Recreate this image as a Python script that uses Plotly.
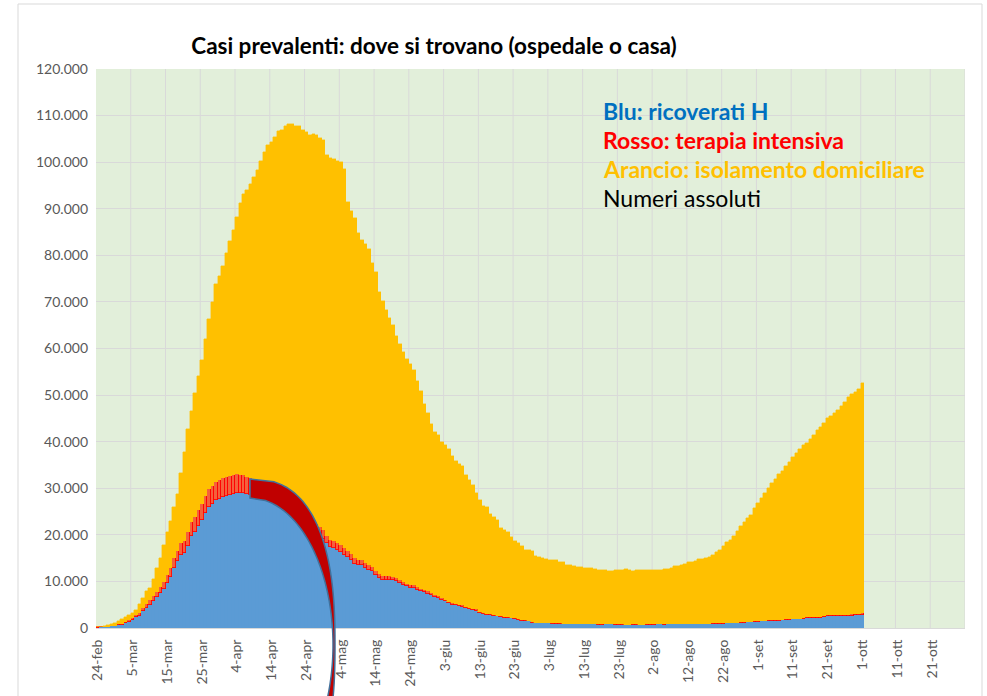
import math
import pandas as pd
import plotly.graph_objects as go

# ---------------- data (Italia, casi attualmente positivi) ----------------
start_date = "2020-02-24"

ricoverati_h = [
    101, 114, 128, 248, 345, 401,
    639, 742, 1034, 1346, 1790, 2394, 2651, 3557, 4316, 5038, 5838, 6650, 7426, 8372, 9663,
    11025, 12894, 14363, 15757, 16020, 17708, 19846, 20692, 21937, 23112, 24753, 26029, 26676,
    27386, 27795, 28192,
    28403, 28540, 28741, 29010, 28949, 28976, 28718, 28485, 28399, 28242, 28144, 27847, 28023,
    28011, 27643, 26893, 26033, 25786, 25033, 24906, 24134, 23805, 22871, 22068, 21533, 21372,
    20353, 19723, 19210, 18149,
    17357, 17242, 16823, 16270, 15769, 15174, 14636, 13834, 13618, 13539, 12865, 12557, 12276,
    11453, 10792, 10400, 10400, 10311, 10207, 9991, 9624, 9269, 8957, 8695, 8613, 8185, 7917,
    7729, 7379, 7094, 6680,
    6387, 6099, 5742, 5301, 5002, 4864, 4729, 4581, 4320, 4131, 3893, 3747, 3301, 3022, 2867,
    2749, 2633, 2474, 2314, 2222, 2157, 2090, 1974, 1789, 1609, 1541, 1425, 1177, 1090, 1039,
    1015, 1003, 978, 956, 954, 949, 880, 861, 846, 834, 823, 820, 812, 798, 780, 758, 744, 749,
    759, 766, 772, 733, 732, 713, 705, 702, 713, 724, 705, 707, 713,
    718, 732, 770, 760, 752, 765, 778, 787, 808, 817, 828, 843, 846, 842, 843, 855, 879, 896,
    910, 924, 958, 964, 999, 1045, 1058, 1096, 1117, 1156, 1202, 1255, 1338,
    1380, 1402, 1472, 1505, 1524, 1560, 1611, 1614, 1686, 1760, 1836, 1836, 1857, 1951, 2122,
    2122, 2222, 2209, 2247, 2380, 2487, 2474, 2476, 2531, 2532, 2588, 2604, 2670, 2746, 2791,
    2846,
]

terapia_intensiva = [
    26, 35, 36, 56, 64, 105,
    140, 166, 229, 295, 351, 462, 567, 650, 733, 877, 1028, 1153, 1328, 1518, 1672, 1851, 2060,
    2257, 2498, 2655, 2857, 3009, 3204, 3396, 3489, 3612, 3732, 3856, 3906, 3981, 4023,
    4035, 4053, 4068, 3994, 3977, 3898, 3792, 3693, 3605, 3497, 3381, 3343, 3260, 3186, 3079,
    2936, 2812, 2733, 2635, 2573, 2471, 2384, 2267, 2173, 2102, 2009, 1956, 1863, 1795, 1694,
    1578, 1539, 1501, 1479, 1427, 1333, 1311, 1168, 1034, 1027, 999, 952, 893, 855, 808, 775,
    762, 749, 716, 676, 640, 595, 572, 553, 541, 521, 505, 489, 475, 450, 435,
    424, 408, 353, 338, 316, 293, 287, 283, 263, 249, 236, 227, 220, 209, 207, 181, 168, 163,
    161, 152, 148, 127, 115, 107, 103, 90, 87, 80, 77, 72,
    87, 82, 79, 74, 71, 69, 67, 65, 65, 64, 62, 62, 57, 55, 53, 49, 48, 47, 44, 49, 48, 48, 49,
    41, 41, 40, 42, 38, 41, 41, 42,
    42, 41, 45, 46, 47, 45, 49, 53, 54, 55, 56, 56, 55, 58, 58, 62, 63, 65, 66, 68, 69, 70, 66,
    69, 69, 69, 74, 79, 86, 94, 94,
    107, 109, 120, 121, 133, 142, 143, 150, 152, 164, 174, 175, 182, 187, 197, 201, 207, 215,
    220, 222, 239, 244, 247, 246, 264, 271, 273, 283, 280, 297,
    291,
]

isolamento_domiciliare = [
    94, 162, 221, 284, 412, 543,
    798, 927, 1000, 1065, 1155, 1060, 1843, 2180, 2936, 2599, 3724, 5036, 6201, 7860, 9268,
    10197, 11108, 12090, 14935, 19185, 22116, 23783, 26522, 28697, 30920, 33648, 36653, 39533,
    42588, 43752, 45420,
    48134, 50456, 52579, 55270, 58320, 60313, 61557, 63084, 64873, 66534, 68744, 71063, 72333,
    73094, 74696, 76778, 78117, 79252, 80589, 80758, 81104, 81510, 81710, 82286, 82212, 82722,
    83504, 83619, 83652, 81708,
    82008, 81923, 81855, 82231, 81271, 75021, 73677, 72959, 70190, 68758, 68624, 67757, 65288,
    64132, 60470, 59012, 57189, 55493, 54206, 52085, 50696, 49458, 48223, 47346, 46146, 44236,
    42544, 39768, 38321, 36147, 34960,
    34556, 33386, 33202, 32790, 31658, 30720, 30246, 29866, 28289, 27330, 26508, 25023, 23964,
    23043, 22835, 21639, 21124, 20464, 19068, 18598, 18332, 17356, 16566, 16407, 15926, 15205,
    15169, 15239, 14396, 14144,
    13958, 13799, 13564, 13612, 13540, 13224, 13153, 12669, 12548, 12405, 12294, 12275, 12050,
    12089, 12035, 11774, 11664, 11697, 11601, 11486, 11428, 11587, 11659, 11719, 11870, 11700,
    11567, 11642, 11710, 11694, 11667,
    11697, 11649, 11659, 11676, 11817, 11884, 12097, 12423, 12506, 12680, 12907, 13182, 13348,
    13506, 13832, 13983, 14158, 14339, 14624, 15386, 15773, 16469, 17373, 17881, 18587, 19588,
    20741, 21445, 22385, 22856, 24294,
    25267, 26306, 27411, 28473, 29537, 30376, 31239, 32025, 32896, 33784, 34757, 35492, 36470,
    37049, 37393, 38209, 38984, 40033, 40694, 41496, 42353, 42771, 43391, 44003, 44922, 45734,
    46741, 47370, 47604, 48175,
    49510,
]

tick_labels = [
    "24-feb", "5-mar", "15-mar", "25-mar", "4-apr", "14-apr", "24-apr", "4-mag", "14-mag",
    "24-mag", "3-giu", "13-giu", "23-giu", "3-lug", "13-lug", "23-lug", "2-ago", "12-ago",
    "22-ago", "1-set", "11-set", "21-set", "1-ott", "11-ott", "21-ott",
]

title_text = "Casi prevalenti: dove si trovano (ospedale o casa)"
legend_lines = [
    ("Blu: ricoverati H", "#0070C0", True),
    ("Rosso: terapia intensiva", "#FF0000", True),
    ("Arancio: isolamento domiciliare", "#FFC000", True),
    ("Numeri assoluti", "#000000", False),
]

# ---------------- axes helpers ----------------
dates = pd.date_range(start_date, periods=len(ricoverati_h), freq="D")
tick_dates = pd.date_range(start_date, periods=len(tick_labels), freq="10D")
half_day = pd.Timedelta(hours=12)
grid_dates = [d + pd.Timedelta(days=9) + half_day for d in tick_dates]
x_range = [tick_dates[0] - half_day, tick_dates[-1] + pd.Timedelta(days=9) + half_day]

FONT = "Lato"
W, H = 987, 696
L, R, T, B = 96, 22, 69, 68
PW, PH = W - L - R, H - T - B


def to_paper(px, py):
    return (px - L) / PW, (H - B - py) / PH


fig = go.Figure()
fig.add_trace(go.Bar(x=dates, y=ricoverati_h, name="ricoverati H",
                     marker=dict(color="#5B9BD5", line=dict(width=0.4, color="#5B9BD5"))))
fig.add_trace(go.Bar(x=dates, y=terapia_intensiva, name="terapia intensiva",
                     marker=dict(color="#F4603C", line=dict(width=0.8, color="#FF0000"))))
fig.add_trace(go.Bar(x=dates, y=isolamento_domiciliare, name="isolamento domiciliare",
                     marker=dict(color="#FFC000", line=dict(width=0.4, color="#FFC000"))))


# decorative crescent (arc drawn over the chart in the original)
def superellipse(cx, cy, rx, ry, n, ys):
    pts = []
    for y in ys:
        dy = abs(y - cy) / ry
        frac = max(0.0, 1 - dy ** n) ** (1 / n)
        pts.append((cx + rx * frac, y))
    return pts


outer_ys = [479 + i * (705 - 479) / 80 for i in range(81)]
inner_ys = [498 + i * (705 - 498) / 80 for i in range(81)]
outer = [(250, 479)] + superellipse(250, 645, 85, 166, 2.5, outer_ys)[1:]
inner = superellipse(250, 645, 83, 147, 2.0, inner_ys)
inner[0] = (250, 498)
pts = outer + inner[::-1]
path = "M " + " L ".join("%.5f,%.5f" % to_paper(px, py) for px, py in pts) + " Z"

shapes = [
    dict(type="rect", xref="paper", yref="paper",
         x0=to_paper(18, 0)[0], x1=to_paper(982, 0)[0],
         y0=to_paper(0, 720)[1], y1=to_paper(0, 4)[1],
         line=dict(color="#D9D9D9", width=1), fillcolor="rgba(0,0,0,0)", layer="below"),
]
# vertical gridlines at category boundaries (every 10 days)
for g in grid_dates:
    shapes.append(dict(type="line", xref="x", yref="paper", x0=g, x1=g, y0=0, y1=1,
                       line=dict(color="#D9D9D9", width=1), layer="below"))
shapes.append(dict(type="path", xref="paper", yref="paper", path=path,
                   fillcolor="#C00000", line=dict(color="#41719C", width=1.5), layer="above"))

annotations = []
for i, (txt, col, bold) in enumerate(legend_lines):
    py = 111 + i * 29
    annotations.append(dict(
        xref="paper", yref="paper", x=to_paper(601, 0)[0], y=to_paper(0, py)[1],
        xanchor="left", yanchor="middle", showarrow=False,
        text=("<b>%s</b>" % txt) if bold else txt,
        font=dict(family=FONT, size=23, color=col)))

fig.update_layout(
    width=W, height=H,
    margin=dict(l=L, r=R, t=T, b=B, autoexpand=False),
    paper_bgcolor="white",
    plot_bgcolor="#E2EFDA",
    barmode="stack", bargap=0,
    showlegend=False,
    separators=",.",
    title=dict(text="<b>%s</b>" % title_text, x=to_paper(434, 0)[0], xref="paper",
               xanchor="center", y=1 - 46 / H, yref="container", yanchor="middle",
               font=dict(family=FONT, size=22.5, color="#000000")),
    font=dict(family=FONT, color="#595959"),
    shapes=shapes,
    annotations=annotations,
)

fig.update_xaxes(
    type="date", range=x_range,
    tickmode="array", tickvals=tick_dates, ticktext=tick_labels, tickangle=-90,
    tickfont=dict(family=FONT, size=14, color="#595959"),
    ticklabelstandoff=5,
    showgrid=False, ticks="",
    showline=True, linecolor="#D9D9D9", linewidth=1,
    zeroline=False,
)
fig.update_yaxes(
    range=[0, 120000], dtick=10000, tick0=0, tickformat=",d",
    tickfont=dict(family=FONT, size=14, color="#595959"),
    ticklabelstandoff=7,
    showgrid=True, gridcolor="#D9D9D9", gridwidth=1,
    zeroline=False, showline=False, ticks="",
)

fig.write_html("out.html", config={"displayModeBar": False},
               post_script="document.body.style.margin='0px';")
